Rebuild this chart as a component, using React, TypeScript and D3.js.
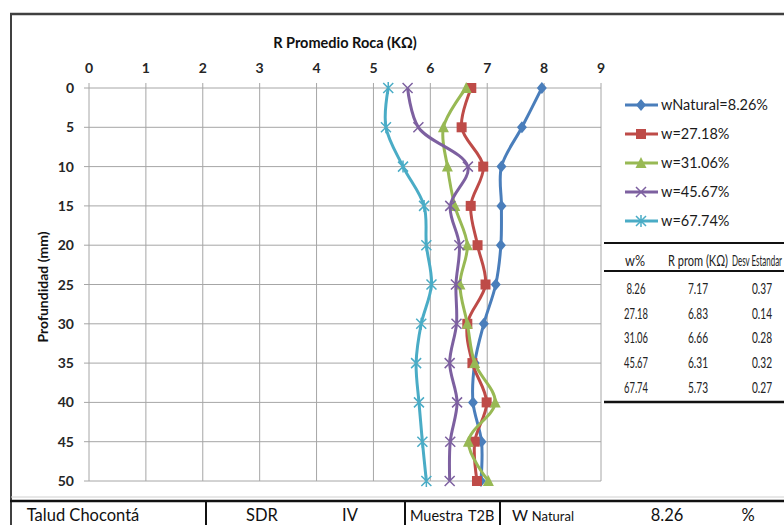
import * as d3 from "d3";

// profundidad (mm)
const depths = [0, 5, 10, 15, 20, 25, 30, 35, 40, 45, 50];

// R promedio roca (kOhm) por serie
const wNatural = [7.96, 7.61, 7.25, 7.25, 7.24, 7.15, 6.94, 6.78, 6.75, 6.9, 6.89];
const w2718 = [6.72, 6.55, 6.93, 6.71, 6.83, 6.97, 6.65, 6.74, 6.99, 6.78, 6.82];
const w3106 = [6.63, 6.23, 6.3, 6.43, 6.65, 6.52, 6.65, 6.78, 7.14, 6.67, 7.02];
const w4567 = [5.6, 5.79, 6.66, 6.35, 6.51, 6.45, 6.46, 6.34, 6.47, 6.35, 6.34];
const w6774 = [5.26, 5.22, 5.52, 5.89, 5.93, 6.02, 5.84, 5.75, 5.8, 5.86, 5.93];

const seriesNames = ["wNatural=8.26%", "w=27.18%", "w=31.06%", "w=45.67%", "w=67.74%"];
const seriesColors = ["#4a7ebb", "#be4b48", "#98b954", "#7d60a0", "#4aacc6"];
const seriesMarkers = ["diamond", "square", "triangle", "x", "star"];

const xTicks = [0, 1, 2, 3, 4, 5, 6, 7, 8, 9];
const yTicks = [0, 5, 10, 15, 20, 25, 30, 35, 40, 45, 50];

// tabla resumen
const tableHead = ["w%", "R prom (KΩ)", "Desv Estandar"];
const tableW = ["8.26", "27.18", "31.06", "45.67", "67.74"];
const tableR = ["7.17", "6.83", "6.66", "6.31", "5.73"];
const tableSD = ["0.37", "0.14", "0.28", "0.32", "0.27"];

const font = "Lato, 'Open Sans', sans-serif";

const Marker = ({ type, color, x, y }: { type: string; color: string; x: number; y: number }) => {
  const s = 5;
  if (type === "diamond")
    return <path d={`M${x},${y - s - 1}L${x + s},${y}L${x},${y + s + 1}L${x - s},${y}Z`} fill={color} />;
  if (type === "square") return <rect x={x - s} y={y - s} width={s * 2} height={s * 2} fill={color} />;
  if (type === "triangle")
    return <path d={`M${x},${y - s - 1}L${x + s + 0.5},${y + s}L${x - s - 0.5},${y + s}Z`} fill={color} />;
  const xs = `M${x - s},${y - s}L${x + s},${y + s}M${x - s},${y + s}L${x + s},${y - s}`;
  if (type === "x") return <path d={xs} stroke={color} strokeWidth={1.5} fill="none" />;
  return <path d={`${xs}M${x},${y - s - 1}L${x},${y + s + 1}`} stroke={color} strokeWidth={1.5} fill="none" />;
};

// texto estrecho de la tabla (ajustado al ancho)
const Narrow = ({ x, y, w, anchor, children }: { x: number; y: number; w: number; anchor?: string; children: string }) => (
  <text
    x={x}
    y={y}
    textAnchor={anchor ?? "start"}
    textLength={w}
    lengthAdjust="spacingAndGlyphs"
    fontFamily={font}
    fontSize={16}
    fill="#222"
  >
    {children}
  </text>
);

export default function App() {
  const width = 784;
  const height = 525;
  const x = d3.scaleLinear().domain([0, 9]).range([89, 601]);
  const y = d3.scaleLinear().domain([0, 50]).range([88, 481]);
  const allSeries = [wNatural, w2718, w3106, w4567, w6774];

  const line = d3
    .line<number>()
    .x((d) => x(d))
    .y((_, i) => y(depths[i]))
    .curve(d3.curveCatmullRom.alpha(0.5));

  const grid = "#a6a6a6";
  const rowY = (i: number) => 294 + i * 24.7;

  return (
    <svg width={width} height={height} style={{ position: "absolute", left: 0, top: 0, background: "#fff" }}>
      <defs>
        <clipPath id="muestra">
          <rect x={400} y={500} width={66} height={25} />
        </clipPath>
      </defs>

      {/* marco */}
      <line x1={10} x2={784} y1={14} y2={14} stroke="#404040" strokeWidth={2.5} />
      <line x1={11} x2={11} y1={13} y2={525} stroke="#404040" strokeWidth={2} />
      <line x1={11} x2={784} y1={497} y2={497} stroke="#d0d0d0" strokeWidth={1} />

      {/* cuadricula */}
      {xTicks.map((t) => (
        <line key={"vx" + t} x1={x(t)} x2={x(t)} y1={y(0) - 5} y2={y(50)} stroke={grid} strokeWidth={1} />
      ))}
      {yTicks.map((t) => (
        <line key={"hy" + t} x1={x(0) - 5} x2={x(9)} y1={y(t)} y2={y(t)} stroke={grid} strokeWidth={1} />
      ))}

      {/* etiquetas de ejes */}
      {xTicks.map((t) => (
        <text key={"tx" + t} x={x(t)} y={73} textAnchor="middle" fontFamily={font} fontWeight={700} fontSize={14} fill="#262626">
          {t}
        </text>
      ))}
      {yTicks.map((t) => (
        <text key={"ty" + t} x={74} y={y(t) + 5} textAnchor="end" fontFamily={font} fontWeight={700} fontSize={14} fill="#262626">
          {t}
        </text>
      ))}
      <text x={345} y={48} textAnchor="middle" fontFamily={font} fontWeight={700} fontSize={14.5} fill="#111">
        R Promedio Roca (KΩ)
      </text>
      <text
        transform={`translate(48,287) rotate(-90)`}
        textAnchor="middle"
        fontFamily={font}
        fontWeight={700}
        fontSize={14}
        fill="#111"
      >
        Profundidad (mm)
      </text>

      {/* series */}
      {allSeries.map((s, k) => (
        <g key={"s" + k}>
          <path d={line(s) ?? ""} fill="none" stroke={seriesColors[k]} strokeWidth={3} />
          {s.map((v, i) => (
            <Marker key={i} type={seriesMarkers[k]} color={seriesColors[k]} x={x(v)} y={y(depths[i])} />
          ))}
        </g>
      ))}

      {/* leyenda */}
      {seriesNames.map((n, k) => {
        const ly = 105 + k * 29;
        return (
          <g key={"lg" + k}>
            <line x1={625} x2={658} y1={ly} y2={ly} stroke={seriesColors[k]} strokeWidth={3} />
            <Marker type={seriesMarkers[k]} color={seriesColors[k]} x={641} y={ly} />
            <text x={661} y={ly + 5} fontFamily={font} fontSize={14.5} fill="#1a1a1a">
              {n}
            </text>
          </g>
        );
      })}

      {/* tabla */}
      <line x1={604} x2={784} y1={243} y2={243} stroke="#111" strokeWidth={2} />
      <line x1={604} x2={784} y1={271} y2={271} stroke="#111" strokeWidth={2} />
      <line x1={604} x2={784} y1={402} y2={402} stroke="#111" strokeWidth={2.5} />
      <Narrow x={625} y={266} w={20}>{tableHead[0]}</Narrow>
      <Narrow x={668} y={266} w={60}>{tableHead[1]}</Narrow>
      <Narrow x={732} y={266} w={50}>{tableHead[2]}</Narrow>
      {tableW.map((w, i) => (
        <g key={"row" + i}>
          <Narrow x={636} y={rowY(i)} w={w.length > 4 ? 24 : 19} anchor="middle">{w}</Narrow>
          <Narrow x={708} y={rowY(i)} w={20} anchor="end">{tableR[i]}</Narrow>
          <Narrow x={752} y={rowY(i)} w={20}>{tableSD[i]}</Narrow>
        </g>
      ))}

      {/* fila inferior */}
      <line x1={10} x2={784} y1={501} y2={501} stroke="#111" strokeWidth={2.5} />
      {[206, 405, 500].map((vx) => (
        <line key={"d" + vx} x1={vx} x2={vx} y1={500} y2={525} stroke="#111" strokeWidth={2} />
      ))}
      <text x={83} y={521} textAnchor="middle" fontFamily={font} fontSize={16.5} fill="#111">
        Talud Chocontá
      </text>
      <text x={262} y={521} textAnchor="middle" fontFamily={font} fontSize={16.5} fill="#111">
        SDR
      </text>
      <text x={350} y={521} textAnchor="middle" fontFamily={font} fontSize={16.5} fill="#111">
        IV
      </text>
      <text x={410} y={521} fontFamily={font} fontSize={14.5} fill="#111" clipPath="url(#muestra)">
        Muestra
      </text>
      <text x={468} y={521} fontFamily={font} fontSize={14.5} fill="#111">
        T2B
      </text>
      <text x={512} y={521} fontFamily={font} fontSize={15.5} fill="#111">
        W <tspan fontSize={13}>Natural</tspan>
      </text>
      <text x={667} y={521} textAnchor="middle" fontFamily={font} fontSize={16.5} fill="#111">
        8.26
      </text>
      <text x={748} y={521} textAnchor="middle" fontFamily={font} fontSize={16.5} fill="#111">
        %
      </text>
    </svg>
  );
}
